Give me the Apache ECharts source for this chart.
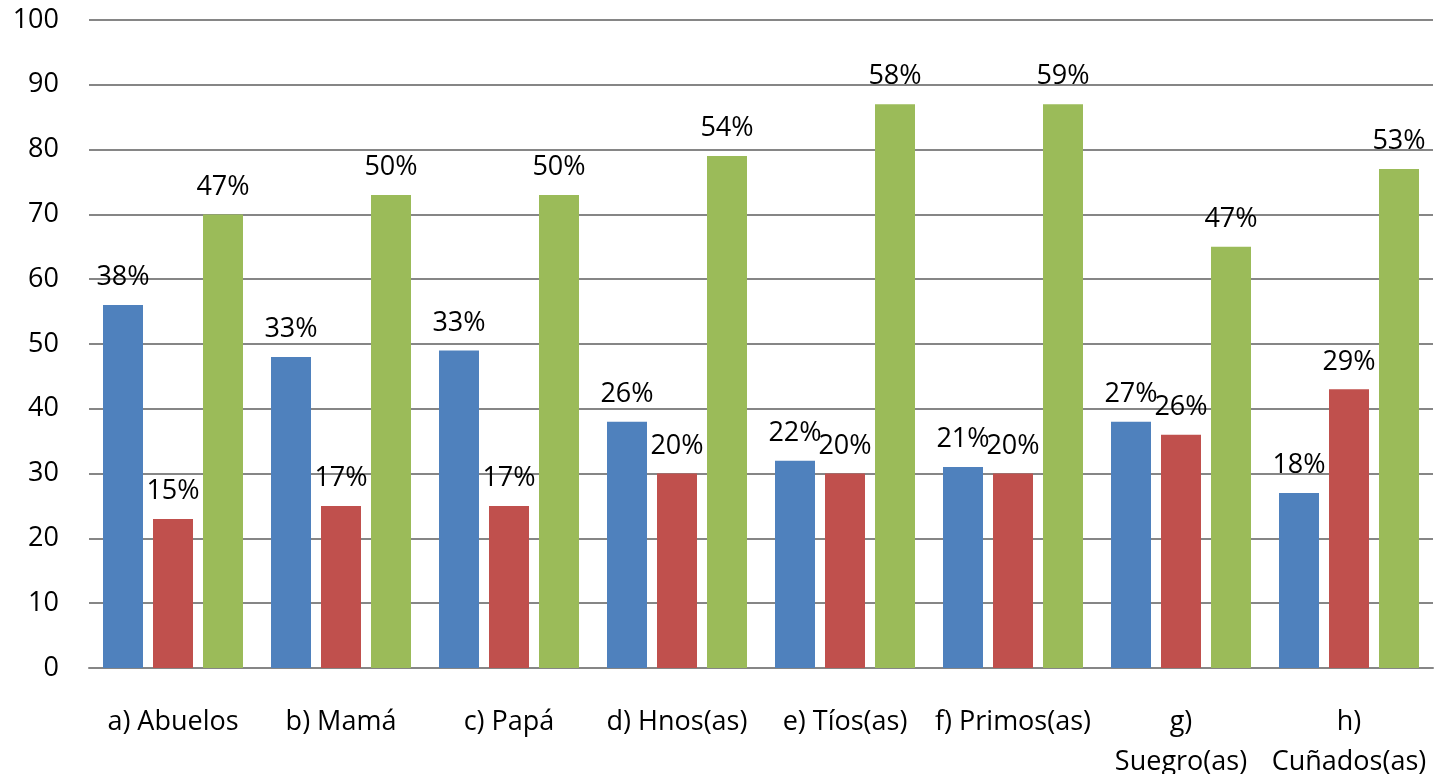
<!DOCTYPE html>
<html>
<head>
<meta charset="utf-8">
<script src="https://cdn.jsdelivr.net/npm/echarts@6/dist/echarts.min.js"></script>
<style>
  html, body { margin: 0; padding: 0; background: #fff; }
  #chart { width: 1435px; height: 774px; }
</style>
</head>
<body>
<div id="chart"></div>
<script>
// categories (g and h wrap onto two lines in the original)
const categories = ["a) Abuelos", "b) Mamá", "c) Papá", "d) Hnos(as)", "e) Tíos(as)", "f) Primos(as)", "g)\nSuegro(as)", "h)\nCuñados(as)"];

// bar heights
const blueValues = [56, 48, 49, 38, 32, 31, 38, 27];
const redValues = [23, 25, 25, 30, 30, 30, 36, 43];
const greenValues = [70, 73, 73, 79, 87, 87, 65, 77];

// percentages printed above each bar
const bluePct = [38, 33, 33, 26, 22, 21, 27, 18];
const redPct = [15, 17, 17, 20, 20, 20, 26, 29];
const greenPct = [47, 50, 50, 54, 58, 59, 47, 53];

const yTicks = { min: 0, max: 100, interval: 10 };

const FONT = "Open Sans";

function barSeries(name, values, pct, color) {
  return {
    name: name,
    type: "bar",
    barWidth: 40,
    barGap: "25%",
    itemStyle: { color: color },
    label: {
      show: true,
      position: "top",
      distance: 14,
      color: "#000",
      fontFamily: FONT,
      fontSize: 27,
      formatter: (p) => pct[p.dataIndex] + "%",
    },
    data: values,
  };
}

const chart = echarts.init(document.getElementById("chart"));
chart.setOption({
  animation: false,
  grid: { left: 89, right: 2, top: 20, bottom: 106, outerBoundsMode: "none" },
  xAxis: {
    type: "category",
    data: categories,
    axisLine: { lineStyle: { color: "#868686", width: 2 } },
    axisTick: { show: false },
    axisLabel: {
      color: "#000",
      fontFamily: FONT,
      fontSize: 27,
      lineHeight: 40,
      margin: 34,
      interval: 0,
    },
  },
  yAxis: {
    type: "value",
    min: yTicks.min,
    max: yTicks.max,
    interval: yTicks.interval,
    axisLine: { show: false },
    axisTick: { show: false },
    splitLine: { lineStyle: { color: "#868686", width: 2 } },
    axisLabel: {
      color: "#000",
      fontFamily: FONT,
      fontSize: 27,
      margin: 30,
    },
  },
  series: [
    barSeries("s1", blueValues, bluePct, "#4F81BD"),
    barSeries("s2", redValues, redPct, "#C0504D"),
    barSeries("s3", greenValues, greenPct, "#9BBB59"),
  ],
});
</script>
</body>
</html>
